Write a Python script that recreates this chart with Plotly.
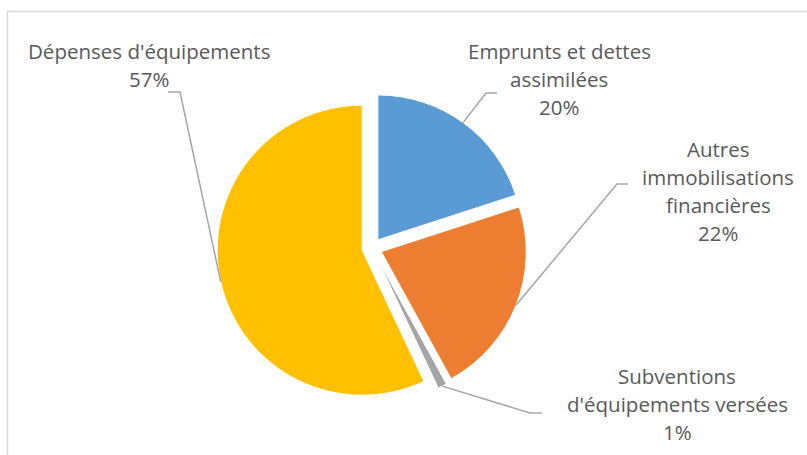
import math
import plotly.graph_objects as go

# Breakdown of investment spending
categories = [
    "Emprunts et dettes assimilées",
    "Autres immobilisations financières",
    "Subventions d'équipements versées",
    "Dépenses d'équipements",
]
label_lines = [
    ["Emprunts et dettes", "assimilées"],
    ["Autres", "immobilisations", "financières"],
    ["Subventions", "d'équipements versées"],
    ["Dépenses d'équipements"],
]
shares = [20, 22, 1, 57]
colors = ["#5B9BD5", "#ED7D31", "#A5A5A5", "#FFC000"]

W, H = 807, 455
PULL = 0.069

# Pie placement (pixels)
CX, CY, R = 372.0, 248.0, 145.0
side = 2 * R * (1 + PULL)
dom_x = [(CX - side / 2) / W, (CX + side / 2) / W]
dom_y = [1 - (CY + side / 2) / H, 1 - (CY - side / 2) / H]

# Label layout: centre x, first baseline, leader elbow and end (pixels)
label_layout = [
    dict(cx=559, base=57, elbow=(486, 93), end=(497, 93)),
    dict(cx=718, base=155, elbow=(617, 184), end=(628, 184)),
    dict(cx=677, base=382, elbow=(530, 413), end=(542, 413)),
    dict(cx=149, base=57, elbow=(180, 92), end=(168, 92)),
]
LINE_STEP = 28
FONT = dict(family="Open Sans, sans-serif", size=20.5, color="#595959")


def px(x):
    return x / W


def py(y):
    return 1 - y / H


fig = go.Figure(
    go.Pie(
        labels=categories,
        values=shares,
        sort=False,
        direction="clockwise",
        rotation=0,
        pull=[PULL] * len(shares),
        marker=dict(colors=colors, line=dict(color="white", width=1)),
        textinfo="none",
        hoverinfo="skip",
        showlegend=False,
        domain=dict(x=dom_x, y=dom_y),
    )
)

annotations = []
shapes = []
total = sum(shares)
cum = 0.0
for lines, v, lay in zip(label_lines, shares, label_layout):
    mid = (cum + v / 2) / total * 2 * math.pi
    cum += v
    ux, uy = math.sin(mid), -math.cos(mid)
    ax = CX + (R + R * PULL) * ux
    ay = CY + (R + R * PULL) * uy
    ex, ey = lay["elbow"]
    tx, ty = lay["end"]
    shapes.append(
        dict(
            type="path",
            xref="paper",
            yref="paper",
            path=f"M {px(ax)} {py(ay)} L {px(ex)} {py(ey)} L {px(tx)} {py(ty)}",
            line=dict(color="#A6A6A6", width=1.5),
        )
    )
    pct = round(v / total * 100)
    all_lines = lines + [f"{pct}%"]
    for i, t in enumerate(all_lines):
        baseline = lay["base"] + i * LINE_STEP
        annotations.append(
            dict(
                x=px(lay["cx"]),
                y=py(baseline - 6),
                xref="paper",
                yref="paper",
                text=t,
                showarrow=False,
                xanchor="center",
                yanchor="middle",
                font=FONT,
            )
        )

# Chart area frame
shapes.append(
    dict(
        type="rect",
        xref="paper",
        yref="paper",
        x0=px(7.5),
        y0=py(470),
        x1=px(830),
        y1=py(11.5),
        line=dict(color="#D9D9D9", width=1.5),
        fillcolor="rgba(0,0,0,0)",
    )
)

fig.update_layout(
    width=W,
    height=H,
    margin=dict(l=0, r=0, t=0, b=0),
    paper_bgcolor="white",
    plot_bgcolor="white",
    annotations=annotations,
    shapes=shapes,
)

fig.write_html("out.html")
